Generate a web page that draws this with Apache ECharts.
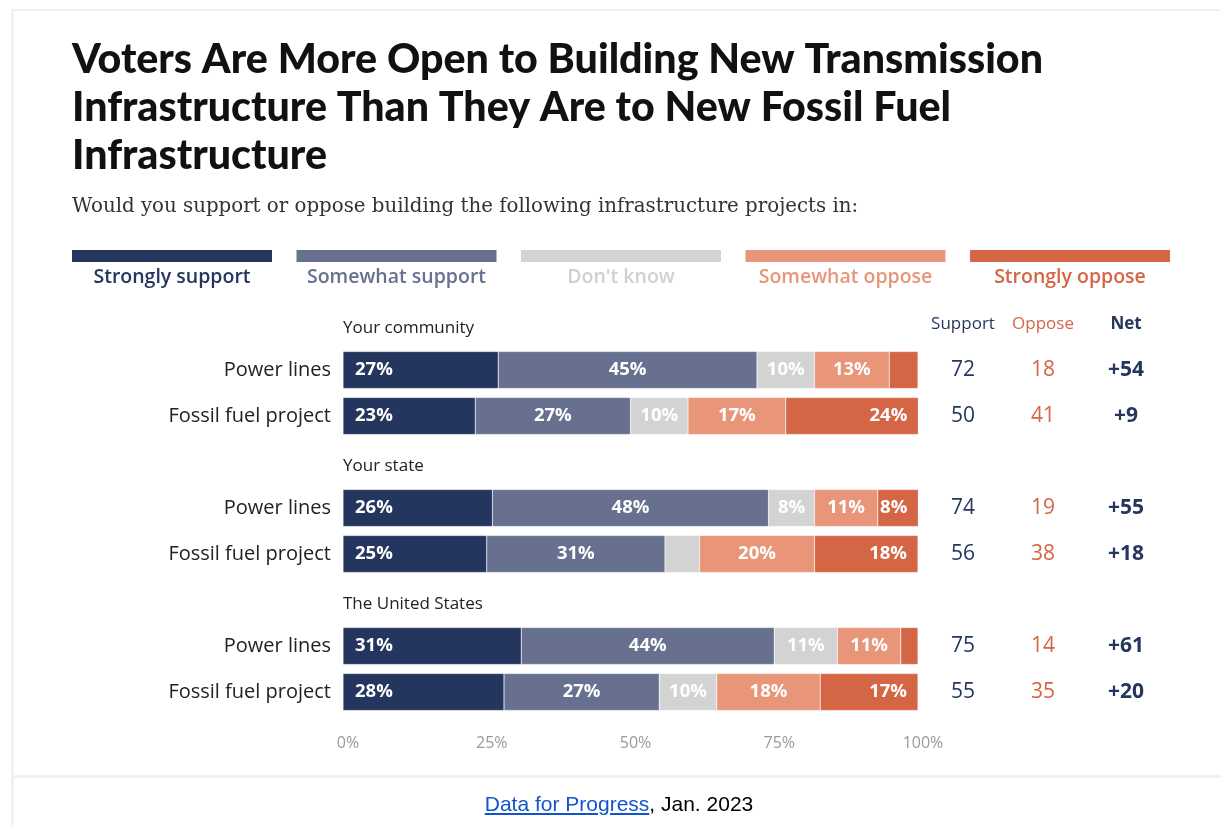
<!DOCTYPE html>
<html>
<head>
<meta charset="utf-8">
<title>Voters Are More Open to Building New Transmission Infrastructure</title>
<script src="https://cdn.jsdelivr.net/npm/echarts@6/dist/echarts.min.js"></script>
<style>
  html, body { margin: 0; padding: 0; background: #fff; width: 1221px; height: 825px; overflow: hidden; }
  #frame { position: absolute; left: 11px; top: 9px; width: 1300px; height: 764px;
           border-left: 3px solid #f1f1f1; border-top: 2px solid #f1f1f1; border-bottom: 3px solid #f1f1f1; }
  #footrule { position: absolute; left: 11px; top: 776px; width: 3px; height: 60px; background: #f1f1f1; }
  #chart { position: absolute; left: 0; top: 0; width: 1221px; height: 775px; }
  #foot { position: absolute; left: 12px; width: 1214px; top: 792px; text-align: center;
          font-family: "Liberation Sans", Arial, sans-serif; font-size: 21px; color: #000; }
  #foot a { color: #1155cc; text-decoration: underline; }
</style>
</head>
<body>
<div id="chart"></div>
<div id="frame"></div>
<div id="footrule"></div>
<div id="foot"><a href="#">Data for Progress</a>, Jan. 2023</div>
<script>
// Survey groups and the projects asked about in each
const groups = ['Your community', 'Your state', 'The United States'];
const projects = ['Power lines', 'Fossil fuel project'];

// Response shares (%), in row order: community PL, community FF, state PL, state FF, US PL, US FF
const stronglySupport = [27, 23, 26, 25, 31, 28];
const somewhatSupport = [45, 27, 48, 31, 44, 27];
const dontKnow        = [10, 10, 8, 6, 11, 10];
const somewhatOppose  = [13, 17, 11, 20, 11, 18];
const stronglyOppose  = [5, 24, 8, 18, 3, 17];

// Summary columns
const supportTotal = [72, 50, 74, 56, 75, 55];
const opposeTotal  = [18, 41, 19, 38, 14, 35];
const netTotal     = ['+54', '+9', '+55', '+18', '+61', '+20'];

const seriesNames = ['Strongly support', 'Somewhat support', "Don't know", 'Somewhat oppose', 'Strongly oppose'];
const seriesData = [stronglySupport, somewhatSupport, dontKnow, somewhatOppose, stronglyOppose];
const colors = ['#24365e', '#67708f', '#d3d3d3', '#e8957a', '#d46545'];
const legendText = ['#24365e', '#67708f', '#d0d0d0', '#e8957a', '#d46545'];

const xTicks = [0, 25, 50, 75, 100];

// Build the row list: one header row per group followed by its project rows
const rows = [];
groups.forEach((g, gi) => {
  rows.push({ header: true, group: g, gi });
  projects.forEach((p, pi) => rows.push({ header: false, label: p, idx: gi * projects.length + pi }));
});
const rowKeys = rows.map((r, i) => 'r' + i);

const TITLE_FONT = 'Lato, "Noto Sans", sans-serif';
const FONT = '"Open Sans", "Noto Sans", sans-serif';
const NAVY = '#26375f';
const RED = '#d46545';

function segSeries(si) {
  const pos = si === 0 ? 'insideLeft' : (si === 4 ? 'insideRight' : 'inside');
  const off = si === 0 ? [7, 0] : (si === 4 ? [-6, 0] : [0, 0]);
  return {
    name: seriesNames[si],
    type: 'bar',
    stack: 'all',
    barWidth: 37,
    itemStyle: { color: colors[si], borderColor: 'rgba(255,255,255,0.35)', borderWidth: 0.6 },
    label: {
      show: true, position: pos, offset: off,
      color: '#fff', fontFamily: FONT, fontWeight: 'bold', fontSize: 18.5,
      formatter: p => (p.value >= 7 ? p.value + '%' : '')
    },
    emphasis: { disabled: true },
    data: rows.map(r => (r.header ? '-' : seriesData[si][r.idx]))
  };
}

const series = seriesData.map((_, si) => segSeries(si));
// Group headings sit on zero-length bars in the header rows
series.push({
  name: 'group',
  type: 'bar',
  stack: 'all',
  barWidth: 37,
  itemStyle: { color: 'transparent' },
  label: {
    show: true, position: 'right', distance: 0, offset: [0, 4],
    color: '#222', fontFamily: FONT, fontSize: 17,
    formatter: p => rows[p.dataIndex].group
  },
  emphasis: { disabled: true },
  data: rows.map(r => (r.header ? 0 : '-'))
});

// Legend: colour bar above each centred label
const legendGraphics = [];
seriesNames.forEach((n, i) => {
  const x0 = 72 + i * 224.5;
  legendGraphics.push({ type: 'rect', left: x0, top: 250, shape: { width: 200, height: 12 }, style: { fill: colors[i] } });
  legendGraphics.push({
    type: 'text', x: x0 + 100, y: 277,
    style: { text: n, fill: legendText[i], font: '600 19.5px ' + FONT, textAlign: 'center', textVerticalAlign: 'middle' }
  });
});

const option = {
  backgroundColor: '#fff',
  animation: false,
  title: [
    {
      text: 'Voters Are More Open to Building New Transmission\nInfrastructure Than They Are to New Fossil Fuel\nInfrastructure',
      left: 72, top: 36, padding: 0,
      textStyle: { fontFamily: TITLE_FONT, fontWeight: 900, fontSize: 41.2, lineHeight: 48, color: '#111' }
    },
    {
      text: 'Would you support or oppose building the following infrastructure projects in:',
      left: 72, top: 195, padding: 0,
      textStyle: { fontFamily: '"DejaVu Serif", serif', fontWeight: 'normal', fontSize: 19.8, lineHeight: 24, color: '#333' }
    }
  ],
  graphic: legendGraphics,
  grid: { left: 343, right: 303, top: 301, height: 414 },
  xAxis: {
    type: 'value', min: 0, max: 100, interval: 25,
    axisLine: { show: false }, axisTick: { show: false }, splitLine: { show: false },
    axisLabel: {
      margin: 20, color: '#9a9a9a', fontFamily: FONT, fontSize: 16, padding: [0, 0, 0, 10],
      formatter: v => (xTicks.includes(v) ? v + '%' : '')
    }
  },
  yAxis: [
    {
      type: 'category', data: rowKeys, inverse: true,
      axisLine: { show: false }, axisTick: { show: false },
      axisLabel: {
        margin: 12, color: '#222', fontFamily: FONT, fontSize: 20,
        formatter: (v, i) => (rows[i].header ? '' : rows[i].label)
      }
    },
    {
      type: 'category', data: rowKeys, inverse: true, position: 'right',
      axisLine: { show: false }, axisTick: { show: false },
      axisLabel: {
        margin: 15, fontFamily: FONT, align: 'left',
        formatter: (v, i) => {
          const r = rows[i];
          if (r.header) {
            return r.gi === 0 ? '{sh|Support}{oh|Oppose}{nh|Net}' : '';
          }
          return '{s|' + supportTotal[r.idx] + '}{o|' + opposeTotal[r.idx] + '}{n|' + netTotal[r.idx] + '}';
        },
        rich: {
          sh: { width: 60, align: 'center', color: NAVY, fontSize: 17, fontFamily: FONT },
          oh: { width: 100, align: 'center', color: RED, fontSize: 17, fontFamily: FONT },
          nh: { width: 66, align: 'center', color: NAVY, fontSize: 17, fontWeight: 'bold', fontFamily: FONT },
          s: { width: 60, align: 'center', color: NAVY, fontSize: 21, fontFamily: FONT },
          o: { width: 100, align: 'center', color: RED, fontSize: 21, fontFamily: FONT },
          n: { width: 66, align: 'center', color: NAVY, fontSize: 21, fontWeight: 'bold', fontFamily: FONT }
        }
      }
    }
  ],
  series
};

const chart = echarts.init(document.getElementById('chart'), null, { renderer: 'canvas' });
chart.setOption(option);
</script>
</body>
</html>
